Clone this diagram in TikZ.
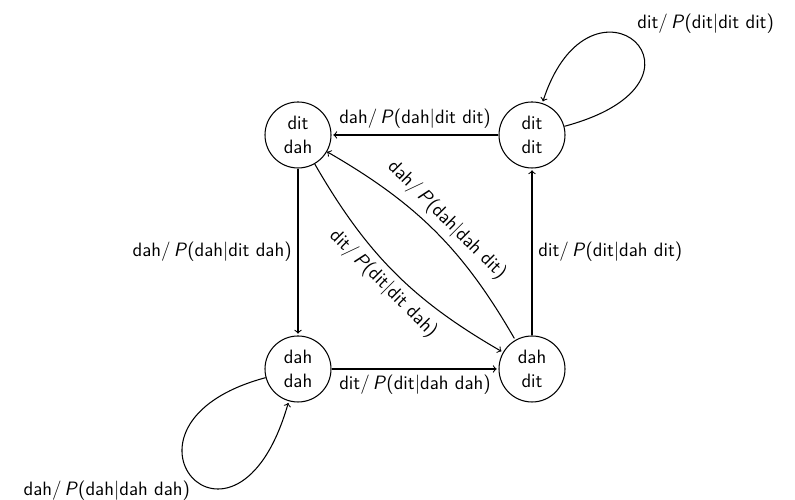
\documentclass[tikz,border=0pt]{standalone}
\usepackage{tikz}
\usetikzlibrary{arrows}

\begin{document}
\begin{tikzpicture}[->,>=to,shorten >=1pt,auto=right,node distance=4.68cm,
                    semithick,main node/.style={circle,draw,minimum size=1.32cm,inner sep=0pt,align=center,font=\sffamily\fontsize{11}{13.5}\selectfont}]

  \useasboundingbox (0,0) rectangle (15.9,10);

  \node[main node] (1) at (5.96,7.3) {dit\\dah};
  \node[main node] (2) [right of=1] {dit\\dit};
  \node[main node] (3) [below of=1] {dah\\dah};
  \node[main node] (4) [right of=3] {dah\\dit};

  \path[every node/.style={font=\sffamily\fontsize{11}{13.5}\selectfont}]

    (2) edge node {dah/\,\textsl{P}(dah$|$dit dit)} (1)
    (1) edge node {dah/\,\textsl{P}(dah$|$dit dah)} (3)
    (3) edge node {dit/\,\textsl{P}(dit$|$dah dah)} (4)
    (4) edge node {dit/\,\textsl{P}(dit$|$dah dit)} (2)

    (1) edge [bend right=15] node [sloped] {dit/\,\textsl{P}(dit$|$dit dah)} (4)
    (1) edge [<-,bend left=15] node [sloped,above] {dah/\,\textsl{P}(dah$|$dah dit)} (4)

    % self loops, labels pushed out to the corners
    (2) edge [out=15,in=72,out looseness=14,in looseness=12.5] node [pos=0.44,anchor=south west,xshift=-0.2cm,yshift=0.2cm] {dit/\,\textsl{P}(dit$|$dit dit)} (2)
    (3) edge [out=195,in=254,out looseness=14,in looseness=15] node [pos=0.55,anchor=north east,xshift=-0.05cm,yshift=0.17cm] {dah/\,\textsl{P}(dah$|$dah dah)} (3)

;
\end{tikzpicture}
\end{document}
